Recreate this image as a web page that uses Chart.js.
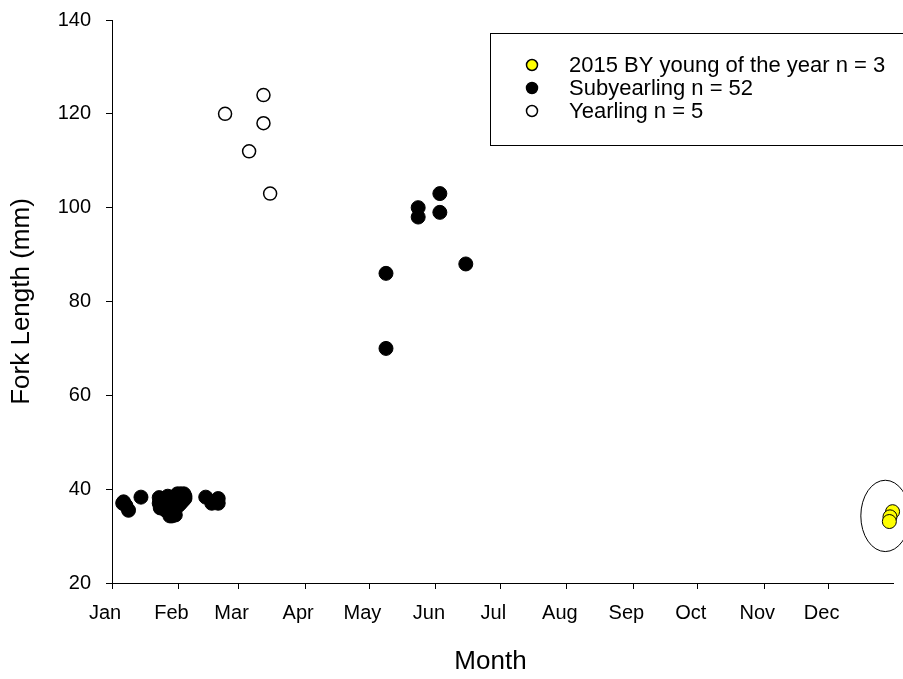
<!DOCTYPE html>
<html>
<head>
<meta charset="utf-8">
<script src="https://cdn.jsdelivr.net/npm/chart.js@4.4.1/dist/chart.umd.min.js"></script>
<style>
  html, body { margin: 0; padding: 0; background: #fff; }
  #wrap { width: 903px; height: 679px; }
</style>
</head>
<body>
<div id="wrap"><canvas id="myChart" width="903" height="679"></canvas></div>
<script>
// month tick labels and their day-of-year positions
const monthNames = ["Jan", "Feb", "Mar", "Apr", "May", "Jun", "Jul", "Aug", "Sep", "Oct", "Nov", "Dec"];
const monthStarts = [0, 31, 59, 90, 120, 151, 181, 212, 243, 273, 304, 334];
const yTicks = [20, 40, 60, 80, 100, 120, 140];

// 2015 BY young of the year (day of year, fork length mm)
const yoyDay = [363.8, 362.6, 362.3];
const yoyLength = [35.2, 34.1, 33.1];

// subyearlings
const subDay = [
  5.4, 5, 7.7, 6.5, 13.5,
  22, 22, 22.5, 23, 24, 24.5, 25, 25, 26, 26.5, 27, 27.5, 27.5, 28, 28.5, 28.5,
  29, 29.5, 29.5, 30, 30.5, 31, 31, 31.5, 32, 32.5, 33, 33.5, 34, 34, 26,
  24, 27, 30, 28, 32,
  43.7, 46.5, 49.5, 49.5,
  127.7, 127.7, 142.7, 142.7, 152.8, 152.8, 164.9,
];
const subLength = [
  37.3, 37, 35.5, 36.5, 38.3,
  38.2, 37, 36, 38, 36.5, 37.5, 38, 35.5, 37, 36, 34.3, 35, 38, 34.3, 36, 37,
  35, 34.5, 38.5, 37, 39, 38, 36.5, 37.5, 39, 38, 37.5, 39, 38.5, 38, 38.5,
  37, 36, 38, 37.5, 37,
  38.3, 37, 38, 37,
  86, 70, 100, 98, 103, 99, 88,
];

// yearlings
const yrlDay = [52.7, 63.9, 70.6, 70.6, 73.7];
const yrlLength = [120, 112, 124, 118, 103];

const seriesLabels = ["2015 BY young of the year n = 3", "Subyearling n = 52", "Yearling n = 5"];
const xTitle = "Month";

// circled group (centre in data units, radii in days / mm)
const ringCenter = [360.4, 34.3];
const ringRadius = [11.4, 7.6];

function toPoints(xs, ys) {
  return xs.map((x, i) => ({ x: x, y: ys[i] }));
}

const FONT = "'Liberation Sans', Arial, sans-serif";

const ringPlugin = {
  id: "ring",
  afterDatasetsDraw(chart) {
    const ctx = chart.ctx;
    const xs = chart.scales.x, ys = chart.scales.y;
    const cx = xs.getPixelForValue(ringCenter[0]);
    const cy = ys.getPixelForValue(ringCenter[1]);
    const rx = Math.abs(xs.getPixelForValue(ringCenter[0] + ringRadius[0]) - cx);
    const ry = Math.abs(ys.getPixelForValue(ringCenter[1] + ringRadius[1]) - cy);
    ctx.save();
    ctx.beginPath();
    ctx.ellipse(cx, cy, rx, ry, 0, 0, Math.PI * 2);
    ctx.strokeStyle = "#000";
    ctx.lineWidth = 1;
    ctx.stroke();
    ctx.restore();
  },
};

// boxed legend + x axis title (sits a little left of the axis centre)
const legendPlugin = {
  id: "boxLegend",
  afterDraw(chart) {
    const ctx = chart.ctx;
    const area = chart.chartArea;
    ctx.save();
    ctx.strokeStyle = "#000";
    ctx.lineWidth = 1;
    ctx.strokeRect(490.5, 33.5, 420, 112);
    ctx.font = "22px " + FONT;
    ctx.textBaseline = "middle";
    ctx.textAlign = "left";
    chart.data.datasets.forEach((ds, i) => {
      const y = 65 + i * 23;
      ctx.beginPath();
      ctx.arc(532, y, 5.5, 0, Math.PI * 2);
      ctx.fillStyle = ds.backgroundColor;
      ctx.fill();
      ctx.lineWidth = 1.5;
      ctx.strokeStyle = "#000";
      ctx.stroke();
      ctx.fillStyle = "#000";
      ctx.fillText(ds.label, 569, y + 1);
    });

    ctx.font = "26px " + FONT;
    ctx.textAlign = "center";
    ctx.fillText(xTitle, (area.left + area.right) / 2 - 12, chart.height - 17);
    ctx.restore();
  },
};

new Chart("myChart", {
  type: "scatter",
  data: {
    datasets: [
      {
        label: seriesLabels[0],
        data: toPoints(yoyDay, yoyLength),
        backgroundColor: "#ffff00",
        borderColor: "#000",
        borderWidth: 1,
        pointRadius: 7,
        clip: false,
      },
      {
        label: seriesLabels[1],
        data: toPoints(subDay, subLength),
        backgroundColor: "#000",
        borderColor: "#000",
        borderWidth: 1,
        pointRadius: 7,
        clip: false,
      },
      {
        label: seriesLabels[2],
        data: toPoints(yrlDay, yrlLength),
        backgroundColor: "#fff",
        borderColor: "#000",
        borderWidth: 1.5,
        pointRadius: 6.5,
        clip: false,
      },
    ],
  },
  options: {
    responsive: false,
    animation: false,
    events: [],
    layout: { padding: { top: 20, right: 10, left: 0, bottom: 0 } },
    plugins: { legend: { display: false }, tooltip: { enabled: false } },
    scales: {
      x: {
        type: "linear",
        min: 0,
        max: 364,
        afterBuildTicks(scale) {
          scale.ticks = monthStarts.map((v) => ({ value: v }));
        },
        afterFit(scale) {
          scale.height = 96;
          scale.paddingLeft = 0;
          scale.paddingRight = 0;
        },
        ticks: {
          autoSkip: false,
          maxRotation: 0,
          padding: 12,
          labelOffset: -7,
          color: "#000",
          font: { family: FONT, size: 20 },
          callback(value) {
            return monthNames[monthStarts.indexOf(value)];
          },
        },
        grid: { drawOnChartArea: false, drawTicks: true, tickLength: 6, color: "#000", lineWidth: 1 },
        border: { display: true, color: "#000", width: 1 },
      },
      y: {
        min: 20,
        max: 140,
        afterBuildTicks(scale) {
          scale.ticks = yTicks.map((v) => ({ value: v }));
        },
        afterFit(scale) {
          scale.width = 112;
          scale.paddingTop = 10;
          scale.paddingBottom = 10;
        },
        ticks: {
          padding: 15,
          color: "#000",
          font: { family: FONT, size: 20 },
        },
        grid: { drawOnChartArea: false, drawTicks: true, tickLength: 6, color: "#000", lineWidth: 1 },
        border: { display: true, color: "#000", width: 1 },
        title: {
          display: true,
          text: "Fork Length (mm)",
          color: "#000",
          font: { family: FONT, size: 26, weight: "normal" },
          padding: { top: 6, bottom: 0 },
        },
      },
    },
  },
  plugins: [ringPlugin, legendPlugin],
});
</script>
</body>
</html>
